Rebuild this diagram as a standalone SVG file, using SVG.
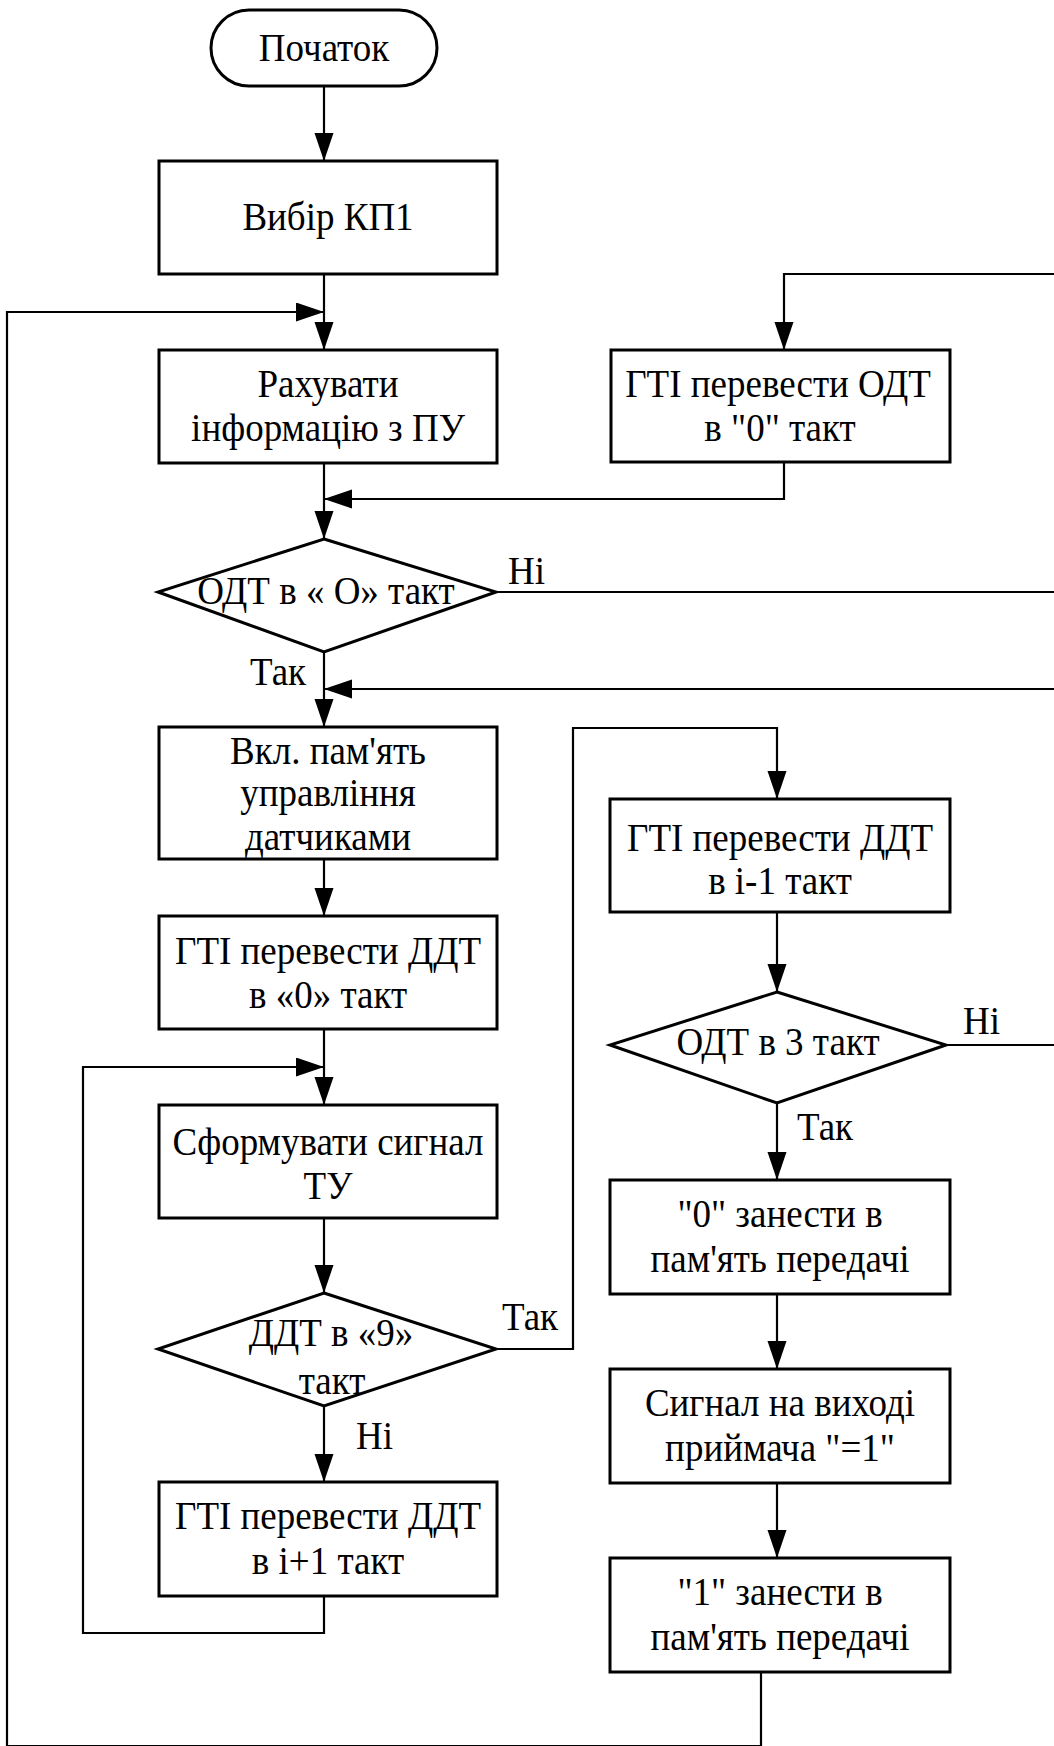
<svg xmlns="http://www.w3.org/2000/svg" width="1054" height="1746" viewBox="0 0 1054 1746">
<style>
.n{fill:#fff;stroke:#000;stroke-width:3}
.c{fill:none;stroke:#000;stroke-width:2.2}
text{font-family:"Liberation Serif","Times New Roman",serif;font-size:37px;fill:#000}
.m{text-anchor:middle}
</style>
<defs>
<marker id="a" markerUnits="userSpaceOnUse" markerWidth="30" markerHeight="20" refX="28" refY="9.5" orient="auto" viewBox="0 0 30 20">
<path d="M0,0 L28,9.5 L0,19 z" fill="#000"/>
</marker>
</defs>
<rect width="1054" height="1746" fill="#fff"/>
<g id="connectors">
<path class="c" d="M324,86 V161" marker-end="url(#a)"/>
<path class="c" d="M324,274 V350" marker-end="url(#a)"/>
<path class="c" d="M761,1672 V1746 H7 V312 H324" marker-end="url(#a)"/>
<path class="c" d="M324,463 V539" marker-end="url(#a)"/>
<path class="c" d="M784,462 V499 H324" marker-end="url(#a)"/>
<path class="c" d="M496,592 H1064 V274 H784 V350" marker-end="url(#a)"/>
<path class="c" d="M324,652 V727" marker-end="url(#a)"/>
<path class="c" d="M946,1045 H1064 V689 H324" marker-end="url(#a)"/>
<path class="c" d="M324,859 V916" marker-end="url(#a)"/>
<path class="c" d="M324,1029 V1105" marker-end="url(#a)"/>
<path class="c" d="M324,1596 V1633 H83 V1067 H324" marker-end="url(#a)"/>
<path class="c" d="M324,1218 V1293" marker-end="url(#a)"/>
<path class="c" d="M496,1349 H573 V728 H777 V799" marker-end="url(#a)"/>
<path class="c" d="M324,1406 V1482" marker-end="url(#a)"/>
<path class="c" d="M777,912 V992" marker-end="url(#a)"/>
<path class="c" d="M777,1103 V1180" marker-end="url(#a)"/>
<path class="c" d="M777,1294 V1369" marker-end="url(#a)"/>
<path class="c" d="M777,1483 V1558" marker-end="url(#a)"/>
<text transform="translate(508,584) scale(1,1.08)">Ні</text>
<text transform="translate(250,685) scale(1,1.08)">Так</text>
<text transform="translate(502,1330) scale(1,1.08)">Так</text>
<text transform="translate(356,1449) scale(1,1.08)">Ні</text>
<text transform="translate(963,1034) scale(1,1.08)">Ні</text>
<text transform="translate(797,1140) scale(1,1.08)">Так</text>
</g>
<g id="start">
<rect class="n" x="211" y="10" width="226" height="76" rx="38" ry="38"/>
<text class="m" transform="translate(324,61) scale(1,1.08)">Початок</text>
</g>
<g id="vybir">
<rect class="n" x="159" y="161" width="338" height="113"/>
<text class="m" transform="translate(328,230) scale(1,1.08)">Вибір КП1</text>
</g>
<g id="rakhuvaty">
<rect class="n" x="159" y="350" width="338" height="113"/>
<text class="m" transform="translate(328,397) scale(1,1.08)">Рахувати</text>
<text class="m" transform="translate(328,441) scale(1,1.08)">інформацію з ПУ</text>
</g>
<g id="gti-odt">
<rect class="n" x="611" y="350" width="339" height="112"/>
<text class="m" transform="translate(778,397) scale(1,1.08)">ГТІ перевести ОДТ</text>
<text class="m" transform="translate(780,441) scale(1,1.08)">в "0" такт</text>
</g>
<g id="dec-odt0">
<polygon class="n" points="324,539 496,592 324,652 158,592"/>
<text class="m" transform="translate(326,604) scale(1,1.08)">ОДТ в « О» такт</text>
</g>
<g id="vkl">
<rect class="n" x="159" y="727" width="338" height="132"/>
<text class="m" transform="translate(328,764) scale(1,1.08)">Вкл. пам'ять</text>
<text class="m" transform="translate(328,806) scale(1,1.08)">управління</text>
<text class="m" transform="translate(328,850) scale(1,1.08)">датчиками</text>
</g>
<g id="gti-ddt0">
<rect class="n" x="159" y="916" width="338" height="113"/>
<text class="m" transform="translate(328,964) scale(1,1.08)">ГТІ перевести ДДТ</text>
<text class="m" transform="translate(328,1008) scale(1,1.08)">в «0» такт</text>
</g>
<g id="sformuvaty">
<rect class="n" x="159" y="1105" width="338" height="113"/>
<text class="m" transform="translate(328,1155) scale(1,1.08)">Сформувати сигнал</text>
<text class="m" transform="translate(328,1199) scale(1,1.08)">ТУ</text>
</g>
<g id="dec-ddt9">
<polygon class="n" points="324,1293 496,1349 324,1406 158,1349"/>
<text class="m" transform="translate(331,1346) scale(1,1.08)">ДДТ в «9»</text>
<text class="m" transform="translate(332,1394) scale(1,1.08)">такт</text>
</g>
<g id="gti-ddt-plus">
<rect class="n" x="159" y="1482" width="338" height="114"/>
<text class="m" transform="translate(328,1529) scale(1,1.08)">ГТІ перевести ДДТ</text>
<text class="m" transform="translate(328,1574) scale(1,1.08)">в і+1 такт</text>
</g>
<g id="gti-ddt-minus">
<rect class="n" x="610" y="799" width="340" height="113"/>
<text class="m" transform="translate(780,851) scale(1,1.08)">ГТІ перевести ДДТ</text>
<text class="m" transform="translate(780,894) scale(1,1.08)">в і-1 такт</text>
</g>
<g id="dec-odt3">
<polygon class="n" points="777,992 946,1045 777,1103 610,1045"/>
<text class="m" transform="translate(778,1055) scale(1,1.08)">ОДТ в 3 такт</text>
</g>
<g id="zero">
<rect class="n" x="610" y="1180" width="340" height="114"/>
<text class="m" transform="translate(780,1227) scale(1,1.08)">"0" занести в</text>
<text class="m" transform="translate(780,1272) scale(1,1.08)">пам'ять передачі</text>
</g>
<g id="signal">
<rect class="n" x="610" y="1369" width="340" height="114"/>
<text class="m" transform="translate(780,1416) scale(1,1.08)">Сигнал на виході</text>
<text class="m" transform="translate(780,1461) scale(1,1.08)">приймача "=1"</text>
</g>
<g id="one">
<rect class="n" x="610" y="1558" width="340" height="114"/>
<text class="m" transform="translate(780,1605) scale(1,1.08)">"1" занести в</text>
<text class="m" transform="translate(780,1650) scale(1,1.08)">пам'ять передачі</text>
</g>
</svg>
